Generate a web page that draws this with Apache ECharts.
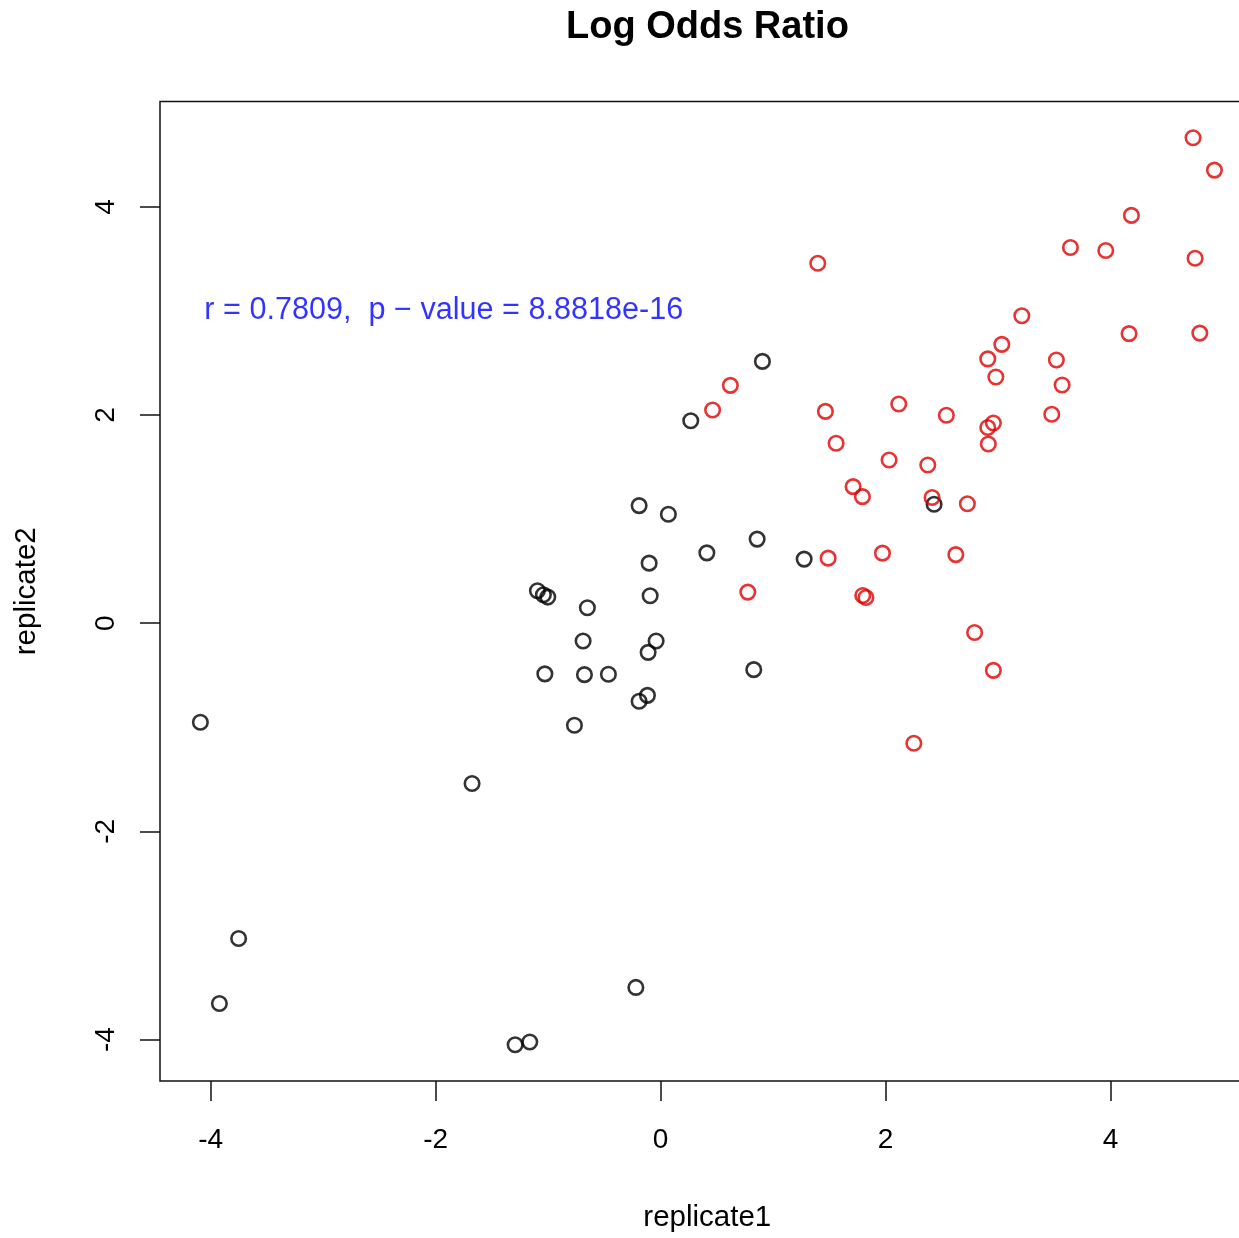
<!DOCTYPE html>
<html lang="en">
<head>
    <meta charset="UTF-8">
    <title>Log Odds Ratio</title>
    <script type="text/javascript" src="https://cdn.jsdelivr.net/npm/echarts@6.0.0/dist/echarts.min.js"></script>
    <style>
        html, body { margin: 0; padding: 0; background: #fff; overflow: hidden; }
    </style>
</head>
<body>
<!-- the plot box runs past the right edge of the picture, so the chart is wider than the window -->
<div id="main" style="width: 1262px;height:1238px;"></div>
<script>
    // points: [replicate1, replicate2]
    var blackPoints = [
        [-4.091, -0.952], [-1.676, -1.540], [-3.751, -3.029], [-3.922, -3.653],
        [-1.293, -4.050], [-1.163, -4.024], [-0.220, -3.499], [-0.766, -0.980],
        [-1.029, -0.487], [-0.677, -0.494], [-0.464, -0.491], [-0.689, -0.171],
        [-0.651, 0.149], [-1.095, 0.312], [-1.042, 0.273], [-1.003, 0.251],
        [-0.191, -0.750], [-0.117, -0.693], [-0.111, -0.280], [-0.040, -0.171],
        [-0.093, 0.264], [-0.102, 0.577], [-0.191, 1.130], [0.069, 1.047],
        [0.268, 1.945], [0.411, 0.676], [0.858, 0.808], [0.828, -0.446],
        [0.905, 2.515], [1.276, 0.616], [2.431, 1.143]
    ];
    var redPoints = [
        [0.462, 2.048], [0.620, 2.285], [1.397, 3.458], [1.465, 2.035],
        [1.560, 1.729], [0.775, 0.299], [1.489, 0.625], [1.711, 1.312],
        [1.794, 1.216], [1.797, 0.266], [1.825, 0.247], [1.972, 0.673],
        [2.031, 1.568], [2.117, 2.106], [2.251, -1.153], [2.375, 1.520],
        [2.413, 1.207], [2.540, 1.998], [2.624, 0.659], [2.727, 1.148],
        [2.791, -0.089], [2.908, 2.539], [2.908, 1.880], [2.958, 1.923],
        [2.913, 1.722], [2.980, 2.366], [3.033, 2.679], [2.958, -0.453],
        [3.211, 2.953], [3.477, 2.007], [3.518, 2.528], [3.569, 2.288],
        [3.643, 3.609], [3.957, 3.580], [4.185, 3.918], [4.164, 2.782],
        [4.733, 4.664], [4.923, 4.353], [4.751, 3.506], [4.793, 2.787]
    ];
    var xTicks = [-4, -2, 0, 2, 4];
    var yTicks = [-4, -2, 0, 2, 4];
    var statText = 'r = 0.7809,  p \u2212 value = 8.8818e-16';
    var statPos = [-4.06, 3.0];

    var myChart = echarts.init(document.getElementById('main'));

    var fontFam = "'Liberation Sans', Arial, Helvetica, sans-serif";

    function circles(data, color) {
        return {
            type: 'scatter',
            data: data,
            symbol: 'circle',
            symbolSize: 14.5,
            silent: true,
            itemStyle: {
                color: 'rgba(0,0,0,0)',
                borderColor: color,
                borderWidth: 2.6
            }
        };
    }

    myChart.setOption({
        backgroundColor: '#fff',
        animation: false,
        title: {
            text: 'Log Odds Ratio',
            left: 566,
            top: 9,
            padding: 0,
            textStyle: {
                fontFamily: fontFam,
                fontSize: 38,
                fontWeight: 'bold',
                color: '#000'
            }
        },
        grid: {
            left: 160,
            top: 101.5,
            bottom: 155.5,
            right: 7.4,
            show: true,
            borderColor: '#111',
            borderWidth: 1.5,
            backgroundColor: '#fff'
        },
        xAxis: {
            type: 'value',
            min: -4.45,
            max: 5.28,
            name: 'replicate1',
            nameLocation: 'middle',
            nameGap: 122,
            nameTextStyle: { fontFamily: fontFam, fontSize: 29.5, color: '#000' },
            axisLine: { show: false, onZero: false },
            splitLine: { show: false },
            axisTick: {
                show: true,
                length: 20,
                customValues: xTicks,
                lineStyle: { color: '#111', width: 1.5 }
            },
            axisLabel: {
                customValues: xTicks,
                margin: 45,
                fontFamily: fontFam,
                fontSize: 28,
                color: '#000'
            }
        },
        yAxis: {
            type: 'value',
            min: -4.398,
            max: 5.012,
            name: 'replicate2',
            nameLocation: 'middle',
            nameGap: 118,
            nameTextStyle: { fontFamily: fontFam, fontSize: 29.5, color: '#000' },
            axisLine: { show: false, onZero: false },
            splitLine: { show: false },
            axisTick: {
                show: true,
                length: 20,
                customValues: yTicks,
                lineStyle: { color: '#111', width: 1.5 }
            },
            axisLabel: {
                customValues: yTicks,
                rotate: 90,
                margin: 40,
                fontFamily: fontFam,
                fontSize: 28,
                color: '#000'
            }
        },
        series: [
            circles(blackPoints, '#000'),
            circles(redPoints, '#e00000'),
            {
                type: 'scatter',
                data: [statPos],
                symbolSize: 1,
                silent: true,
                itemStyle: { color: 'rgba(0,0,0,0)' },
                label: {
                    show: true,
                    position: 'right',
                    distance: 0,
                    formatter: statText,
                    fontFamily: fontFam,
                    fontSize: 30.6,
                    color: '#0000ff'
                }
            }
        ]
    });
</script>
</body>
</html>
